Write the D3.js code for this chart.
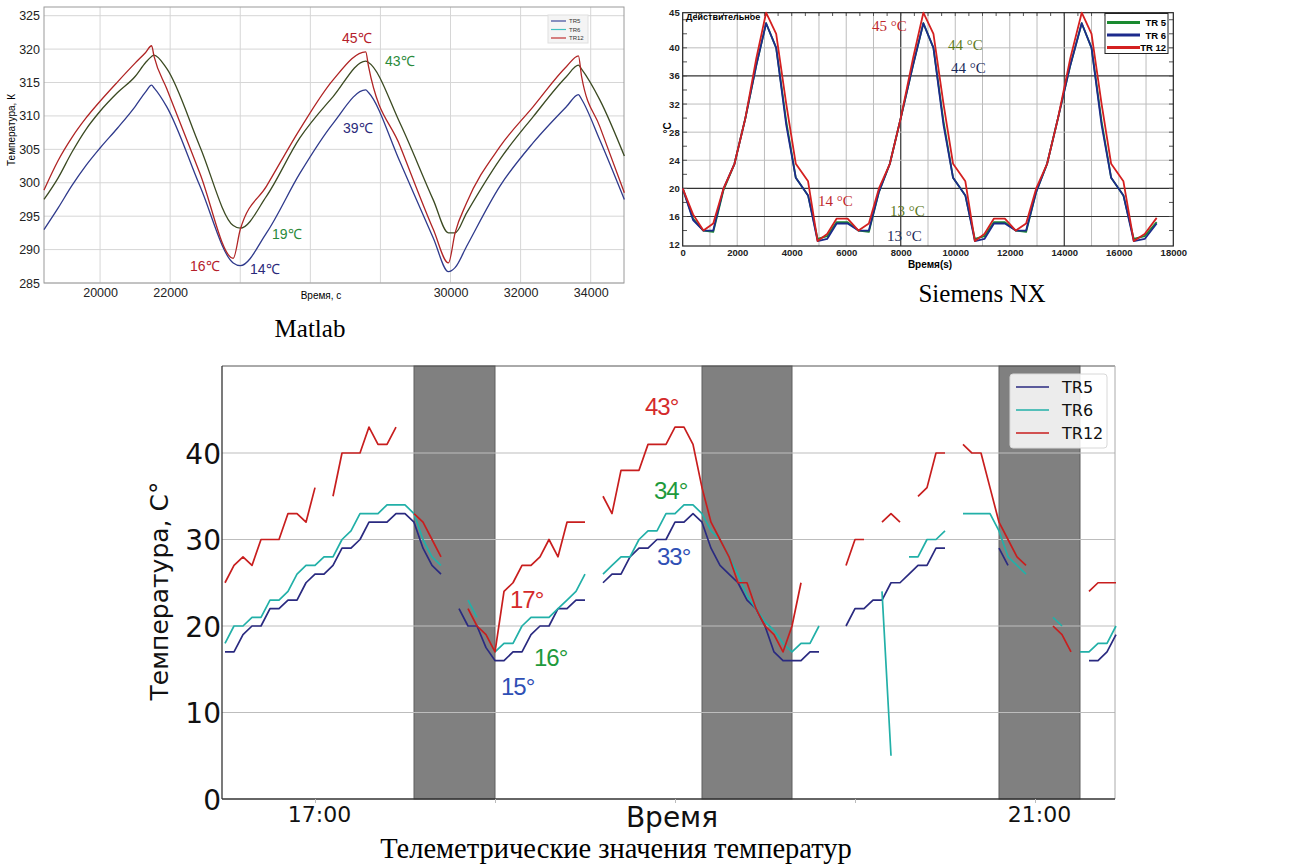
<!DOCTYPE html>
<html lang="ru">
<head>
<meta charset="utf-8">
<title>Телеметрические значения температур</title>
<script src="https://d3js.org/d3.v7.min.js"></script>
<style>
  * { margin: 0; padding: 0; }
  body { background: #fff; }
  svg { display: block; }
</style>
</head>
<body>
<div id="chart"></div>
<script>
// ---------------- данные: Matlab (К) ----------------
const mlTime = [18400, 18800, 19200, 19600, 20000, 20500, 21000, 21300, 21470, 21540, 21900, 22850, 23800,
                24000, 24750, 25700, 26650, 27580, 27660, 28560, 29510, 29940, 30130, 30460, 31410, 32360,
                33310, 33650, 33740, 34260, 34960];
const mlTR12 = [298.9, 303.3, 306.8, 309.7, 312.2, 315.1, 317.9, 319.5, 320.5, 318.9, 314.1, 301.4, 288.7,
                293.0, 299.5, 308.0, 315.4, 319.6, 317.4, 305.5, 293.0, 288.0, 292.5, 297.0, 305.4, 311.4,
                317.4, 319.0, 315.9, 308.4, 298.5];
const mlTR6  = [297.5, 300.7, 304.6, 308.0, 310.7, 313.5, 315.9, 318.0, 318.9, 319.1, 317.1, 305.4, 293.6,
                293.2, 298.0, 306.7, 312.9, 318.2, 318.0, 308.9, 297.4, 292.5, 292.5, 295.5, 303.5, 309.9,
                315.9, 317.6, 317.0, 312.4, 304.0];
const mlTR5  = [293.0, 296.2, 299.6, 302.6, 305.2, 308.2, 311.4, 313.6, 314.6, 314.2, 311.4, 299.5, 288.0,
                287.6, 292.5, 301.4, 308.9, 313.9, 313.5, 303.1, 291.7, 286.7, 287.3, 290.5, 299.5, 306.0,
                311.4, 313.2, 312.5, 306.4, 297.5];
const mlYTicks = [285, 290, 295, 300, 305, 310, 315, 320, 325];
const mlXTicks = [20000, 22000, 24000, 26000, 28000, 30000, 32000, 34000];
const mlXLabels = ['20000', '22000', '', '', '', '30000', '32000', '34000'];

// ---------------- данные: Siemens NX (°C) ----------------
const nxTime = [0, 380, 760, 1120, 1500, 1900, 2300, 2700, 3060, 3430, 3800, 4150, 4600, 4950, 5300, 5650,
                6050, 6450, 6830, 7200, 7600, 8000, 8450, 8830, 9200, 9570, 9920, 10370, 10720, 11070, 11420,
                11820, 12220, 12600, 12970, 13370, 13770, 14220, 14640, 15000, 15370, 15720, 16170, 16550,
                16950, 17390];
const nxTR12 = [20, 16.3, 14, 15, 20, 23.5, 30, 38.5, 45, 42, 32, 23.5, 21, 12.5, 13.5, 15.7,
                15.7, 14, 15, 20, 23.5, 30, 38.5, 45, 42, 32, 23.5, 21, 12.5, 13.5, 15.7,
                15.7, 14, 15, 20, 23.5, 30, 38.5, 45, 42, 32, 23.5, 21, 12.5,
                13.5, 15.8];
const nxTR6  = [20, 15.5, 14, 14, 20, 23.5, 30, 37.5, 43.5, 40, 29, 21.5, 19, 12.5, 12.8, 15,
                15, 14, 14, 19.5, 23.5, 30, 37.5, 43.5, 40, 29, 21.5, 19, 12.5, 12.8, 15,
                15, 14, 14, 19.5, 23.5, 30, 37.5, 43.5, 40, 29, 21.5, 19, 12.5,
                12.8, 15];
const nxTR5  = [20, 15.7, 14, 13.8, 19.8, 23.5, 30, 37.5, 43.5, 40, 29.5, 21.5, 19, 12.8, 13.2, 15.2,
                15.2, 14, 13.8, 19.5, 23.5, 30, 37.5, 43.5, 40, 29.5, 21.5, 19, 12.8, 13.2, 15.2,
                15.2, 14, 13.8, 19.5, 23.5, 30, 37.5, 43.5, 40, 29.5, 21.5, 19, 12.8,
                13.2, 15.2];
const nxYTicks = [12, 16, 20, 24, 28, 32, 36, 40, 45];
const nxXTicks = [0, 2000, 4000, 6000, 8000, 10000, 12000, 14000, 16000, 18000];

// ---------------- данные: телеметрия (°C), шаг 3 мин с 16:30 ----------------
const tmStart = '16:30';
const tmStepMin = 3;
const tmTR5 = [
  17, 17, 19, 20, 20, 22, 22, 23, 23, 25,
  26, 26, 27, 29, 29, 30, 32, 32, 32, 33,
  33, 32, 29, 27, 26, null, 22, 20, 20, 17.5,
  16, 16, 17, 17, 19, 20, 20, 22, 22, 23,
  23, null, 25, 26, 26, 28, 29, 29, 30, 30,
  32, 32, 33, 32, 29, 27, 26, 25, 23, 22,
  20, 17, 16, 16, 16, 17, 17, null, null, 20,
  22, 22, 23, 23, 25, 25, 26, 27, 27, 29,
  29, null, null, null, null, null, 29, 27, null, null,
  null, null, null, null, null, null, 16, 16, 17, 19
];
const tmTR6 = [
  18, 20, 20, 21, 21, 23, 23, 24, 26, 27,
  27, 28, 28, 30, 31, 33, 33, 33, 34, 34,
  34, 33, 30, 28, 27, null, null, 23, 21, null,
  17, 18, 18, 20, 21, 21, 21, 22, 23, 24,
  26, null, 26, 27, 28, 28, 30, 31, 31, 33,
  33, 34, 34, 33, 31, 30, 28, 26, 23.5, 22,
  20.5, 19.5, 18, 17, 18, 18, 20, null, null, null,
  null, null, null, 24, 5, null, 28, 28, 30, 30,
  31, null, 33, 33, 33, 33, 31, 28, 27, 26,
  null, null, 21, 20, null, 17, 17, 18, 18, 20
];
const tmTR12 = [
  25, 27, 28, 27, 30, 30, 30, 33, 33, 32,
  36, null, 35, 40, 40, 40, 43, 41, 41, 43,
  null, 33, 32, 30, 28, null, null, 22, 20, 19,
  17, 24, 25, 27, 27, 28, 30, 28, 32, 32,
  32, null, 35, 33, 38, 38, 38, 41, 41, 41,
  43, 43, 41, 36, 32, 30, 28, 25, 25, 22,
  20, 19, 17, 20, 25, null, null, null, null, 27,
  30, 30, null, 32, 33, 32, null, 35, 36, 40,
  40, null, 41, 40, 40, 36, 32, 30, 28, 27,
  null, null, 20, 19, 17, null, 24, 25, 25, 25
];
const tmBands = [['17:33', '18:00'], ['19:09', '19:39'], ['20:48', '21:15']];
const tmYTicks = [0, 10, 20, 30, 40];
const tmXTicks = ['17:00', '18:00', '19:00', '20:00', '21:00'];
const tmXLabels = ['17:00', '', '', '', '21:00'];
const seriesNames = ['TR5', 'TR6', 'TR12'];

const W = 1306, H = 868;
const svg = d3.select('#chart').append('svg').attr('width', W).attr('height', H);

function drawLine(g, xs, ys, x, y, color, width, curve) {
  const pts = xs.map((t, i) => ({t: t, v: ys[i]}));
  g.append('path')
    .datum(pts)
    .attr('fill', 'none')
    .attr('stroke', color)
    .attr('stroke-width', width)
    .attr('stroke-linejoin', 'round')
    .attr('d', d3.line()
      .defined(d => d.v !== null)
      .x(d => x(d.t))
      .y(d => y(d.v))
      .curve(curve || d3.curveLinear));
}

/*------------------------- Matlab -------------------------*/
const gM = svg.append('g');
const mX = d3.scaleLinear().domain([18400, 34950]).range([44, 624]);
const mY = d3.scaleLinear().domain([285, 326.3]).range([283, 7]);

gM.selectAll('.mgy').data(mlYTicks).enter().append('line')
  .attr('x1', 44).attr('x2', 624)
  .attr('y1', d => mY(d)).attr('y2', d => mY(d))
  .attr('stroke', '#d6d6d6');
gM.selectAll('.mgx').data(mlXTicks).enter().append('line')
  .attr('x1', d => mX(d)).attr('x2', d => mX(d))
  .attr('y1', 7).attr('y2', 283)
  .attr('stroke', '#d6d6d6');
gM.append('rect').attr('x', 44).attr('y', 7).attr('width', 580).attr('height', 276)
  .attr('fill', 'none').attr('stroke', '#9a9a9a');

const mAxY = gM.append('g').attr('transform', 'translate(44,0)')
  .call(d3.axisLeft(mY).tickValues(mlYTicks).tickSize(0).tickPadding(4));
const mAxX = gM.append('g').attr('transform', 'translate(0,283)')
  .call(d3.axisBottom(mX).tickValues(mlXTicks).tickFormat((d, i) => mlXLabels[i]).tickSize(0).tickPadding(5));
[mAxY, mAxX].forEach(a => {
  a.select('.domain').remove();
  a.selectAll('text').style('font-family', 'Liberation Sans, Arial').style('font-size', '12.5px').attr('fill', '#222');
});
gM.append('text').attr('transform', 'translate(15,130) rotate(-90)')
  .attr('text-anchor', 'middle').style('font-family', 'Liberation Sans, Arial').style('font-size', '10px')
  .text('Температура, К');
gM.append('text').attr('x', 321).attr('y', 299).attr('text-anchor', 'middle')
  .style('font-family', 'Liberation Sans, Arial').style('font-size', '10px').text('Время, с');

drawLine(gM, mlTime, mlTR5, mX, mY, '#2f3a8c', 1.3, d3.curveMonotoneX);
drawLine(gM, mlTime, mlTR6, mX, mY, '#3b4a22', 1.3, d3.curveMonotoneX);
drawLine(gM, mlTime, mlTR12, mX, mY, '#b02424', 1.3, d3.curveMonotoneX);

// легенда Matlab
const mLeg = gM.append('g');
mLeg.append('rect').attr('x', 548).attr('y', 15).attr('width', 40).attr('height', 28)
  .attr('fill', '#f4f4f4').attr('stroke', '#e0e0e0');
['#3c4a9c', '#40c0c0', '#c03030'].forEach((c, i) => {
  mLeg.append('line').attr('x1', 551).attr('x2', 566).attr('y1', 21 + i * 8.5).attr('y2', 21 + i * 8.5)
    .attr('stroke', c).attr('stroke-width', 1.2);
  mLeg.append('text').attr('x', 569).attr('y', 23.2 + i * 8.5)
    .style('font-family', 'Liberation Sans, Arial').style('font-size', '6px').attr('fill', '#333')
    .text(seriesNames[i]);
});

const mlNotes = [
  {text: '45℃', s: 26903, k: 320.9, c: '#b5202a'},
  {text: '43℃', s: 28130, k: 317.5, c: '#2a8a3a'},
  {text: '39℃', s: 26932, k: 307.4, c: '#2a2a7a'},
  {text: '16℃', s: 22566, k: 286.8, c: '#b5202a'},
  {text: '14℃', s: 24278, k: 286.3, c: '#2a2a7a'},
  {text: '19℃', s: 24906, k: 291.6, c: '#2a8a3a'}
];
gM.selectAll('.mnote').data(mlNotes).enter().append('text')
  .attr('x', d => mX(d.s)).attr('y', d => mY(d.k))
  .attr('fill', d => d.c)
  .style('font-family', 'Liberation Sans, Arial').style('font-size', '14px')
  .text(d => d.text);

svg.append('text').attr('x', 310).attr('y', 337).attr('text-anchor', 'middle')
  .style('font-family', 'Liberation Serif, Times New Roman').style('font-size', '25px').text('Matlab');

/*------------------------- Siemens NX -------------------------*/
const gN = svg.append('g');
const nX = d3.scaleLinear().domain([0, 18000]).range([682.7, 1173.3]);
const nY = d3.scaleLinear().domain([11.8, 45]).range([246, 12.7]);

gN.selectAll('.ngx').data(d3.range(1000, 18000, 1000)).enter().append('line')
  .attr('x1', d => nX(d)).attr('x2', d => nX(d)).attr('y1', 12.7).attr('y2', 246)
  .attr('stroke', d => (d === 8000 || d === 14000) ? '#333' : '#bdbdbd')
  .attr('stroke-width', d => (d === 8000 || d === 14000) ? 1.2 : 1);
gN.selectAll('.ngy').data([16, 20, 24, 28, 32, 36, 40]).enter().append('line')
  .attr('x1', 682.7).attr('x2', 1173.3).attr('y1', d => nY(d)).attr('y2', d => nY(d))
  .attr('stroke', d => (d === 16 || d === 20 || d === 36) ? '#333' : '#bdbdbd')
  .attr('stroke-width', d => (d === 16 || d === 20 || d === 36) ? 1.2 : 1);
// мелкие засечки по краям
gN.selectAll('.nmt').data(d3.range(14, 45, 2)).enter().append('line')
  .attr('x1', 1169).attr('x2', 1173.3).attr('y1', d => nY(d)).attr('y2', d => nY(d))
  .attr('stroke', '#555');
gN.selectAll('.nmt2').data(d3.range(14, 45, 2)).enter().append('line')
  .attr('x1', 682.7).attr('x2', 687).attr('y1', d => nY(d)).attr('y2', d => nY(d))
  .attr('stroke', '#555');
gN.selectAll('.nmt3').data(d3.range(500, 18000, 500)).enter().append('line')
  .attr('x1', d => nX(d)).attr('x2', d => nX(d)).attr('y1', 12.7).attr('y2', 16)
  .attr('stroke', '#555');
gN.append('rect').attr('x', 682.7).attr('y', 12.7).attr('width', 490.6).attr('height', 233.3)
  .attr('fill', 'none').attr('stroke', '#222').attr('stroke-width', 1.2);

const nAxY = gN.append('g').attr('transform', 'translate(682.7,0)')
  .call(d3.axisLeft(nY).tickValues(nxYTicks).tickSize(0).tickPadding(3));
const nAxX = gN.append('g').attr('transform', 'translate(0,246)')
  .call(d3.axisBottom(nX).tickValues(nxXTicks).tickFormat(d3.format('d')).tickSize(0).tickPadding(3));
[nAxY, nAxX].forEach(a => {
  a.select('.domain').remove();
  a.selectAll('text').style('font-family', 'Liberation Sans, Arial').style('font-size', '9.5px')
    .style('font-weight', 'bold').attr('fill', '#222');
});
gN.append('text').attr('x', 930).attr('y', 268).attr('text-anchor', 'middle')
  .style('font-family', 'Liberation Sans, Arial').style('font-size', '10px').style('font-weight', 'bold')
  .text('Время(s)');
gN.append('text').attr('transform', 'translate(671,128) rotate(-90)').attr('text-anchor', 'middle')
  .style('font-family', 'Liberation Sans, Arial').style('font-size', '10px').style('font-weight', 'bold')
  .text('°C');
gN.append('text').attr('x', 686).attr('y', 20)
  .style('font-family', 'Liberation Sans, Arial').style('font-size', '9px').style('font-weight', 'bold')
  .text('Действительное');

const nxColors = ['#1a8a30', '#1c2a8c', '#d42020'];
drawLine(gN, nxTime, nxTR5, nX, nY, nxColors[0], 1.8);
drawLine(gN, nxTime, nxTR6, nX, nY, nxColors[1], 1.8);
drawLine(gN, nxTime, nxTR12, nX, nY, nxColors[2], 1.8);

// легенда NX
const nLeg = gN.append('g');
nLeg.append('rect').attr('x', 1105).attr('y', 13.5).attr('width', 63).attr('height', 40)
  .attr('fill', '#fff').attr('stroke', '#222');
['TR 5', 'TR 6', 'TR 12'].forEach((t, i) => {
  const yy = 22.5 + i * 12.5;
  nLeg.append('line').attr('x1', 1107).attr('x2', 1140).attr('y1', yy).attr('y2', yy)
    .attr('stroke', nxColors[i]).attr('stroke-width', 3);
  nLeg.append('text').attr('x', 1166).attr('y', yy + 3.5).attr('text-anchor', 'end')
    .style('font-family', 'Liberation Sans, Arial').style('font-size', '9.5px').style('font-weight', 'bold')
    .text(t);
});

const nxNotes = [
  {text: '45 °C', s: 6945, v: 42.4, c: '#c0272d'},
  {text: '44 °C', s: 9734, v: 39.7, c: '#5c7a1c'},
  {text: '44 °C', s: 9844, v: 36.4, c: '#1a2a5a'},
  {text: '14 °C', s: 4964, v: 17.5, c: '#c0272d'},
  {text: '13 °C', s: 7606, v: 16.1, c: '#5c7a1c'},
  {text: '13 °C', s: 7496, v: 12.5, c: '#1a2a5a'}
];
gN.selectAll('.nnote').data(nxNotes).enter().append('text')
  .attr('x', d => nX(d.s)).attr('y', d => nY(d.v)).attr('fill', d => d.c)
  .style('font-family', 'Liberation Serif, Times New Roman').style('font-size', '15px')
  .text(d => d.text);

svg.append('text').attr('x', 982).attr('y', 302).attr('text-anchor', 'middle')
  .style('font-family', 'Liberation Serif, Times New Roman').style('font-size', '25px').text('Siemens NX');

/*------------------------- Телеметрия -------------------------*/
const gT = svg.append('g');
const parseHM = d3.timeParse('%H:%M');
const tmTimes = tmTR5.map((_, i) => d3.timeMinute.offset(parseHM(tmStart), i * tmStepMin));
const tX = d3.scaleTime().domain([parseHM('16:29'), d3.timeParse('%H:%M:%S')('21:26:40')]).range([222, 1115]);
const tY = d3.scaleLinear().domain([0, 50.06]).range([799, 366]);

gT.selectAll('.band').data(tmBands).enter().append('rect')
  .attr('x', d => tX(parseHM(d[0]))).attr('y', 366)
  .attr('width', d => tX(parseHM(d[1])) - tX(parseHM(d[0]))).attr('height', 433)
  .attr('fill', '#808080').attr('stroke', '#5e5e5e').attr('stroke-width', 1);
gT.selectAll('.tgy').data(tmYTicks.slice(1)).enter().append('line')
  .attr('x1', 222).attr('x2', 1115).attr('y1', d => tY(d)).attr('y2', d => tY(d))
  .attr('stroke', '#bdbdbd').attr('stroke-width', 1.1);
// рамка
gT.append('line').attr('x1', 222).attr('x2', 1115).attr('y1', 366).attr('y2', 366).attr('stroke', '#555');
gT.append('line').attr('x1', 1115).attr('x2', 1115).attr('y1', 366).attr('y2', 799).attr('stroke', '#aaa');
gT.append('line').attr('x1', 222).attr('x2', 222).attr('y1', 366).attr('y2', 799).attr('stroke', '#333').attr('stroke-width', 1.3);
gT.append('line').attr('x1', 222).attr('x2', 1115).attr('y1', 799).attr('y2', 799).attr('stroke', '#333').attr('stroke-width', 1.3);

const tAxY = gT.append('g').attr('transform', 'translate(222,0)')
  .call(d3.axisLeft(tY).tickValues(tmYTicks).tickSize(0).tickPadding(1));
tAxY.select('.domain').remove();
tAxY.selectAll('text').style('font-family', 'DejaVu Sans').style('font-size', '28px').attr('fill', '#111')
  .attr('dy', '0.36em');
const tAxX = gT.append('g').attr('transform', 'translate(0,799)')
  .call(d3.axisBottom(tX).tickValues(tmXTicks.map(parseHM)).tickFormat((d, i) => tmXLabels[i]).tickSize(4).tickPadding(3));
tAxX.select('.domain').remove();
tAxX.selectAll('line').attr('stroke', '#bbb');
tAxX.selectAll('text').style('font-family', 'DejaVu Sans').style('font-size', '22px').attr('fill', '#111')
  .attr('dx', '4');

gT.append('text').attr('transform', 'translate(168,591) rotate(-90)').attr('text-anchor', 'middle')
  .style('font-family', 'DejaVu Sans').style('font-size', '25px').attr('fill', '#111')
  .text('Температура, C°');
gT.append('text').attr('x', 672).attr('y', 827).attr('text-anchor', 'middle')
  .style('font-family', 'DejaVu Sans').style('font-size', '28px').attr('fill', '#111')
  .text('Время');

const tmColors = ['#2a2a80', '#22b0a8', '#c81e1e'];
drawLine(gT, tmTimes, tmTR5, tX, tY, tmColors[0], 1.7);
drawLine(gT, tmTimes, tmTR6, tX, tY, tmColors[1], 1.7);
drawLine(gT, tmTimes, tmTR12, tX, tY, tmColors[2], 1.7);

// легенда
const tLeg = gT.append('g');
tLeg.append('rect').attr('x', 1010).attr('y', 374).attr('width', 97).attr('height', 74).attr('rx', 3)
  .attr('fill', 'rgba(255,255,255,0.85)').attr('stroke', '#d8d8d8');
seriesNames.forEach((n, i) => {
  const yy = 387 + i * 23;
  tLeg.append('line').attr('x1', 1016).attr('x2', 1049).attr('y1', yy).attr('y2', yy)
    .attr('stroke', tmColors[i]).attr('stroke-width', 1.7);
  tLeg.append('text').attr('x', 1062).attr('y', yy + 6)
    .style('font-family', 'DejaVu Sans').style('font-size', '16px').attr('fill', '#111').text(n);
});

const tmNotes = [
  {text: '43°', t: '18:50', v: 44.4, c: '#d42a2a'},
  {text: '34°', t: '18:53', v: 34.7, c: '#1e9a3c'},
  {text: '33°', t: '18:54', v: 27.05, c: '#2f4fb5'},
  {text: '17°', t: '18:05', v: 22.1, c: '#d42a2a'},
  {text: '16°', t: '18:13', v: 15.4, c: '#1e9a3c'},
  {text: '15°', t: '18:02', v: 12.0, c: '#2f4fb5'}
];
gT.selectAll('.tnote').data(tmNotes).enter().append('text')
  .attr('x', d => tX(parseHM(d.t))).attr('y', d => tY(d.v)).attr('fill', d => d.c)
  .style('font-family', 'Liberation Sans, Arial').style('font-size', '24px').style('letter-spacing', '-1px')
  .text(d => d.text);

svg.append('text').attr('x', 616).attr('y', 858).attr('text-anchor', 'middle')
  .style('font-family', 'Liberation Serif, Times New Roman').style('font-size', '28.5px')
  .text('Телеметрические значения температур');
</script>
</body>
</html>
